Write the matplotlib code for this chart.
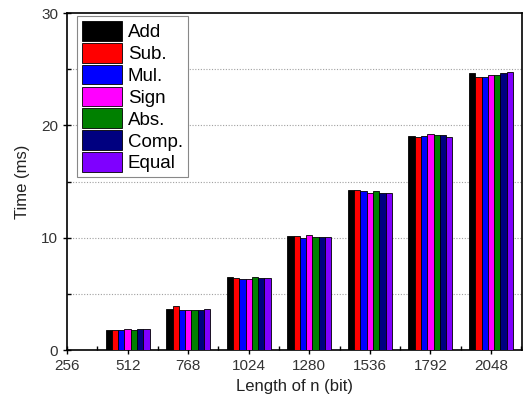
import matplotlib
matplotlib.use("Agg")
import matplotlib.pyplot as plt
import numpy as np
from matplotlib.ticker import MultipleLocator

plt.rcParams['font.family'] = ['Liberation Sans', 'DejaVu Sans']

lengths = [512, 768, 1024, 1280, 1536, 1792, 2048]
series_names = ["Add", "Sub.", "Mul.", "Sign", "Abs.", "Comp.", "Equal"]
colors = ["#000000", "#ff0000", "#0000ff", "#ff00ff", "#008000", "#000080", "#7f00ff"]

add_vals   = [1.78, 3.70, 6.47, 10.15, 14.25, 19.08, 24.70]
sub_vals   = [1.80, 3.95, 6.45, 10.15, 14.25, 19.00, 24.30]
mul_vals   = [1.82, 3.56, 6.30, 10.00, 14.20, 19.08, 24.35]
sign_vals  = [1.87, 3.58, 6.36, 10.24, 14.00, 19.26, 24.45]
abs_vals   = [1.82, 3.58, 6.47, 10.05, 14.15, 19.17, 24.45]
comp_vals  = [1.85, 3.58, 6.40, 10.10, 13.98, 19.17, 24.65]
equal_vals = [1.86, 3.65, 6.40, 10.10, 13.98, 19.00, 24.75]

all_vals = [add_vals, sub_vals, mul_vals, sign_vals, abs_vals, comp_vals, equal_vals]
xtick_vals = [256, 512, 768, 1024, 1280, 1536, 1792, 2048]

fig = plt.figure(figsize=(5.28, 4.09), dpi=100)
ax = fig.add_axes([0.127, 0.144, 0.862, 0.824])

bw = 26.5
n = len(series_names)
x = np.array(lengths, dtype=float)
for i, (name, vals, c) in enumerate(zip(series_names, all_vals, colors)):
    offs = (i - (n - 1) / 2) * bw
    ax.bar(x + offs, vals, width=bw, color=c, edgecolor="black", linewidth=0.6,
           label=name, zorder=3)

ax.set_xlim(256, 2180)
ax.set_ylim(0, 30)
ax.set_xticks(xtick_vals)
ax.set_xticklabels([str(v) for v in xtick_vals])
ax.xaxis.set_minor_locator(MultipleLocator(128))
ax.yaxis.set_major_locator(MultipleLocator(10))
ax.yaxis.set_minor_locator(MultipleLocator(5))

for y in [5, 10, 15, 20, 25]:
    ax.axhline(y, color="#a0a0a0", linestyle=(0, (1, 1.5)), linewidth=0.8, zorder=1)

ax.tick_params(axis="both", which="major", direction="inout", length=6, width=1,
               labelsize=11, colors="black", labelcolor="#333333")
ax.tick_params(axis="both", which="minor", direction="in", length=3, width=1)
ax.tick_params(axis="x", which="both", top=False)
ax.tick_params(axis="y", which="both", right=False)
for s in ax.spines.values():
    s.set_linewidth(1.2)

ax.set_xlabel("Length of n (bit)", fontsize=12, color="#222222")
ax.set_ylabel("Time (ms)", fontsize=12, color="#222222", labelpad=8)

leg = ax.legend(loc="upper left", bbox_to_anchor=(0.022, 0.991), borderaxespad=0,
                fontsize=13.5, handlelength=2.15, handleheight=1.25,
                labelspacing=0.09, handletextpad=0.3, borderpad=0.25,
                fancybox=False, edgecolor="#888888", framealpha=1)
leg.get_frame().set_linewidth(0.8)

fig.savefig("out.png", dpi=100)
